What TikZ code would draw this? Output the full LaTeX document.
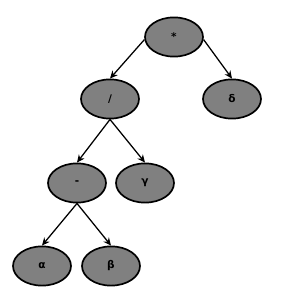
\documentclass[tikz,border=0pt]{standalone}
\usepackage{fontspec}
\setmainfont{DejaVu Sans}
\usepackage{tikz}
\usetikzlibrary{shapes,arrows.meta,positioning,shapes.geometric}
\definecolor{nodegray}{RGB}{128,128,128}

\begin{document}
\begin{tikzpicture}[on grid, auto,
  opnode/.style={draw, ellipse, line width=1.2pt, fill=nodegray, minimum width=1.45cm, minimum height=0.98cm, inner sep=0pt, font=\fontsize{7.5}{9}\selectfont\bfseries},
  edge/.style={-{Stealth[length=5.5pt,width=5pt]}, line width=0.9pt}]
\useasboundingbox (0,0) rectangle (7.1,-7.425);
\node[opnode] (root) at (4.35,-0.925) {*};
\node[opnode, below left=1.55cm and 1.6cm of root] (div) {/};
\node[opnode, below right=1.55cm and 1.45cm of root] (delta) {δ};
\node[opnode, below left=2.1cm and 0.825cm of div] (minus) {-};
\node[opnode, below right=2.1cm and 0.875cm of div] (gamma) {γ};
\node[opnode, below left=2.075cm and 0.875cm of minus] (alpha) {α};
\node[opnode, below right=2.075cm and 0.85cm of minus] (beta) {β};

\draw[edge] (root.185) -- (div.north);
\draw[edge] (root.355) -- (delta.north);
\draw[edge] (div.south) -- (minus.north);
\draw[edge] (div.south) -- (gamma.north);
\draw[edge] (minus.south) -- (alpha.north);
\draw[edge] (minus.south) -- (beta.north);
\end{tikzpicture}
\end{document}
